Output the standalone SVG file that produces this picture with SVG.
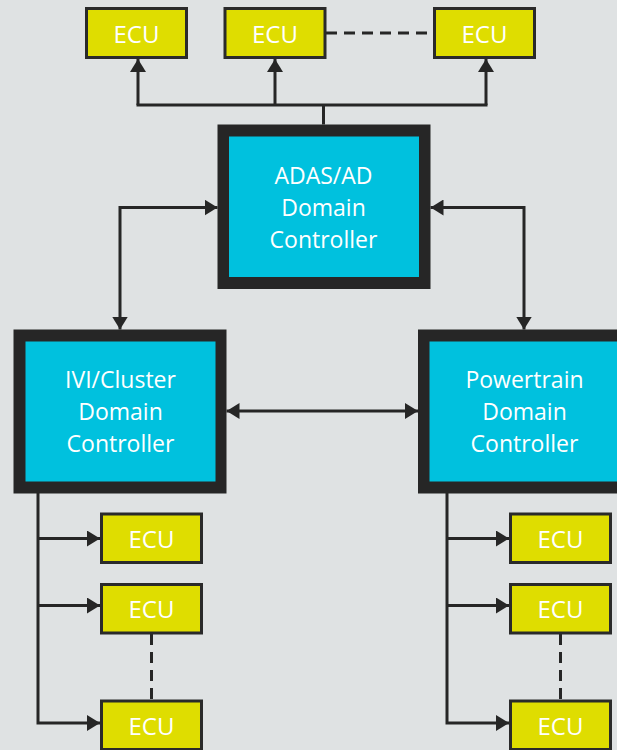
<svg xmlns="http://www.w3.org/2000/svg" width="617" height="750" viewBox="0 0 617 750">
  <style>
    .ecu rect { fill: #dfdd00; stroke: #2a2a2a; stroke-width: 3; }
    .ecu text { fill: #ffffff; font-family: "Open Sans", "Noto Sans", sans-serif; font-size: 24px; text-anchor: middle; }
    .dc .frame { fill: #262626; }
    .dc .face { fill: #00c1de; }
    .dc text { fill: #ffffff; font-family: "Open Sans", "Noto Sans", sans-serif; font-size: 23px; text-anchor: middle; }
    .link { fill: none; stroke: #262626; stroke-width: 3; }
    .dash { fill: none; stroke: #262626; stroke-width: 3; stroke-dasharray: 11 7; }
  </style>
  <defs>
    <marker id="arrow" viewBox="0 0 13 16" refX="13" refY="8" markerWidth="13" markerHeight="16" markerUnits="userSpaceOnUse" orient="auto-start-reverse">
      <path d="M0 0 L13 8 L0 16 Z" fill="#262626"/>
    </marker>
  </defs>

  <rect width="617" height="750" fill="#dfe2e3"/>

  <!-- connectors -->
  <g id="connectors">
    <!-- ADAS fan-out to top ECUs -->
    <path class="link" d="M323.5 124.5 V105"/>
    <path class="link" d="M136.5 105 H487.5"/>
    <path class="link" d="M138 105 V59" marker-end="url(#arrow)"/>
    <path class="link" d="M275 105 V59" marker-end="url(#arrow)"/>
    <path class="link" d="M486 105 V59" marker-end="url(#arrow)"/>
    <path class="dash" d="M326 33 H433"/>

    <!-- domain controller links -->
    <path class="link" d="M217.5 207.5 H120 V329.5" marker-start="url(#arrow)" marker-end="url(#arrow)"/>
    <path class="link" d="M430.5 207.5 H524 V329.5" marker-start="url(#arrow)" marker-end="url(#arrow)"/>
    <path class="link" d="M226.5 411 H418" marker-start="url(#arrow)" marker-end="url(#arrow)"/>

    <!-- IVI/Cluster bus -->
    <path class="link" d="M38 493 V723 H100" marker-end="url(#arrow)"/>
    <path class="link" d="M38 538.5 H100" marker-end="url(#arrow)"/>
    <path class="link" d="M38 605.5 H100" marker-end="url(#arrow)"/>
    <path class="dash" d="M151.5 634 V699.5"/>

    <!-- Powertrain bus -->
    <path class="link" d="M447 493 V723 H509" marker-end="url(#arrow)"/>
    <path class="link" d="M447 538.5 H509" marker-end="url(#arrow)"/>
    <path class="link" d="M447 605.5 H509" marker-end="url(#arrow)"/>
    <path class="dash" d="M560.5 634 V699.5"/>
  </g>

  <!-- top ECUs -->
  <g id="ecu-top-1" class="ecu">
    <rect x="86.5" y="8.5" width="100" height="49"/>
    <text x="136.5" y="42.5">ECU</text>
  </g>
  <g id="ecu-top-2" class="ecu">
    <rect x="225" y="8.5" width="100" height="49"/>
    <text x="275" y="42.5">ECU</text>
  </g>
  <g id="ecu-top-3" class="ecu">
    <rect x="434.5" y="8.5" width="100" height="49"/>
    <text x="484.5" y="42.5">ECU</text>
  </g>

  <!-- ADAS/AD domain controller -->
  <g id="adas-dc" class="dc">
    <rect class="frame" x="217.5" y="124.5" width="213" height="164.5"/>
    <rect class="face" x="229" y="136.5" width="190" height="140.5"/>
    <text x="323.5" y="184">ADAS/AD</text>
    <text x="323.5" y="216">Domain</text>
    <text x="323.5" y="248">Controller</text>
  </g>

  <!-- IVI/Cluster domain controller -->
  <g id="ivi-dc" class="dc">
    <rect class="frame" x="13.5" y="329.5" width="213" height="164"/>
    <rect class="face" x="25.5" y="341.5" width="190" height="140"/>
    <text x="120.5" y="388">IVI/Cluster</text>
    <text x="120.5" y="420">Domain</text>
    <text x="120.5" y="451.5">Controller</text>
  </g>

  <!-- Powertrain domain controller -->
  <g id="powertrain-dc" class="dc">
    <rect class="frame" x="418" y="329.5" width="213" height="164"/>
    <rect class="face" x="429.5" y="341.5" width="190" height="140"/>
    <text x="524.5" y="388">Powertrain</text>
    <text x="524.5" y="420">Domain</text>
    <text x="524.5" y="451.5">Controller</text>
  </g>

  <!-- IVI/Cluster ECUs -->
  <g id="ecu-ivi-1" class="ecu">
    <rect x="101.5" y="514" width="100" height="48.5"/>
    <text x="151.5" y="547.5">ECU</text>
  </g>
  <g id="ecu-ivi-2" class="ecu">
    <rect x="101.5" y="584.5" width="100" height="48.5"/>
    <text x="151.5" y="618">ECU</text>
  </g>
  <g id="ecu-ivi-3" class="ecu">
    <rect x="101.5" y="701" width="100" height="48.5"/>
    <text x="151.5" y="734.5">ECU</text>
  </g>

  <!-- Powertrain ECUs -->
  <g id="ecu-pt-1" class="ecu">
    <rect x="510.5" y="514" width="100" height="48.5"/>
    <text x="560.5" y="547.5">ECU</text>
  </g>
  <g id="ecu-pt-2" class="ecu">
    <rect x="510.5" y="584.5" width="100" height="48.5"/>
    <text x="560.5" y="618">ECU</text>
  </g>
  <g id="ecu-pt-3" class="ecu">
    <rect x="510.5" y="701" width="100" height="48.5"/>
    <text x="560.5" y="734.5">ECU</text>
  </g>
</svg>
